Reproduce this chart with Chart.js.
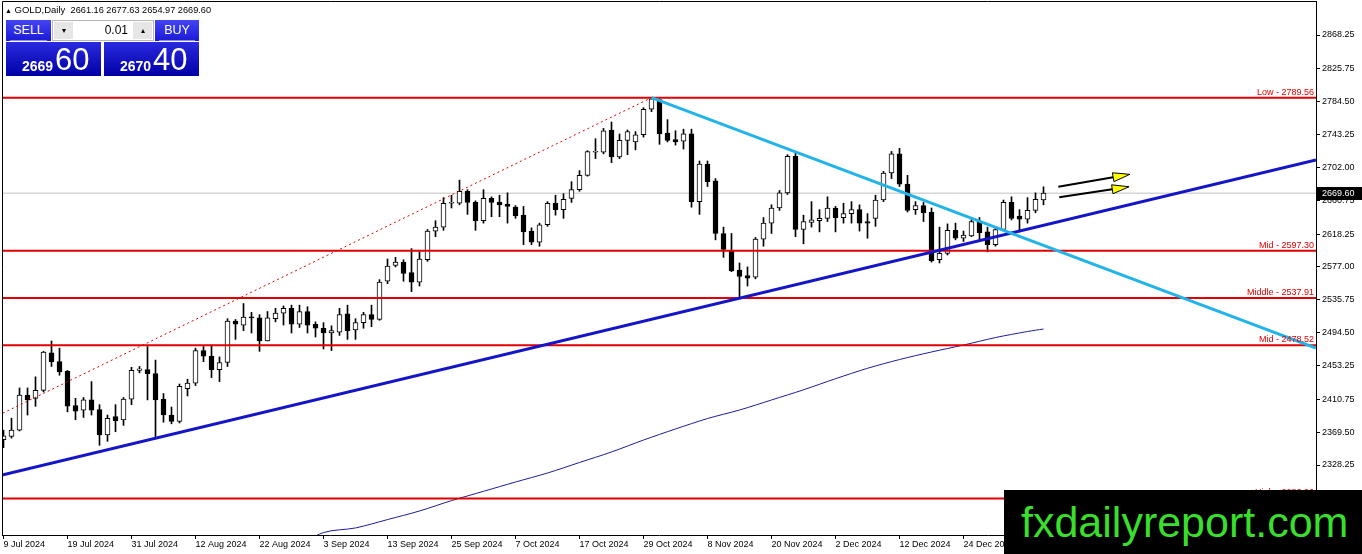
<!DOCTYPE html>
<html>
<head>
<meta charset="utf-8">
<script src="https://cdn.jsdelivr.net/npm/chart.js@4.4.1/dist/chart.umd.min.js"></script>
<style>
  html, body { margin: 0; padding: 0; background: #fff; overflow: hidden; }
  #wrap { position: relative; width: 1362px; height: 554px; font-family: "Liberation Sans", Arial, sans-serif; }
  #chart { position: absolute; left: 0; top: 0; }
  .hdr { position: absolute; left: 5px; top: 4px; font-size: 9.5px; color: #000; white-space: pre; }
  .hdr .n { font-size: 9.2px; }
  .tb { position: absolute; top: 20px; height: 21px; background: linear-gradient(#4444f2, #1a1ad8); color: #fff;
        font-size: 12.5px; line-height: 21px; text-align: center; }
  .tb i { position: absolute; left: 4px; right: 4px; bottom: 0; height: 1px; background: #8c8cf0; }
  .sell { left: 6px; width: 45px; }
  .buy { left: 155px; width: 44px; }
  .lot { position: absolute; left: 52px; top: 20px; width: 102px; height: 21px; background: #fff; border: 1px solid #b8b8b8; box-sizing: border-box; }
  .lot .dn, .lot .up { position: absolute; top: 1px; width: 19px; height: 17px; background: #e6e6e6; font-size: 8px; text-align: center; line-height: 17px; color: #000; }
  .lot .dn { left: 1px; }
  .lot .up { right: 1px; }
  .lot .val { position: absolute; right: 25px; top: 0; line-height: 19px; font-size: 12px; color: #000; }
  .px { position: absolute; top: 42px; height: 34px; background: linear-gradient(#2a2ae0, #0000a4); color: #fff; }
  .sellpx { left: 6px; width: 95px; }
  .buypx { left: 104px; width: 95px; }
  .px .s { position: absolute; left: 16px; top: 17px; font-size: 14px; font-weight: bold; line-height: 1; }
  .px .b { position: absolute; left: 49px; top: 2px; font-size: 31px; line-height: 1; }
  .mark { position: absolute; left: 1004px; top: 490px; width: 358px; height: 64px; background: #000; color: #3ade2c;
          font-size: 43px; line-height: 64px; text-indent: 17px; white-space: nowrap; overflow: hidden; }
</style>
</head>
<body>
<div id="wrap">
  <canvas id="chart" width="1362" height="554"></canvas>
  <div class="hdr" id="hdr"></div>
  <div class="tb sell">SELL<i></i></div>
  <div class="lot"><span class="dn">&#9662;</span><span class="val">0.01</span><span class="up">&#9652;</span></div>
  <div class="tb buy">BUY<i></i></div>
  <div class="px sellpx"><span class="s" id="bidBig"></span><span class="b" id="bidSmall"></span></div>
  <div class="px buypx"><span class="s" id="askBig"></span><span class="b" id="askSmall"></span></div>
  <div class="mark">fxdailyreport.com</div>
</div>
<script>
// GOLD daily, 9 Jul 2024 .. 9 Jan 2025 (one entry per trading day)
const open = [
  2360, 2364, 2372, 2416, 2412, 2422, 2469, 2458, 2446, 2403, 2397, 2410, 2398, 2366, 2389, 2385,
  2411, 2447, 2448, 2443, 2411, 2391, 2383, 2424, 2431, 2472, 2465, 2448, 2457, 2509, 2504, 2514,
  2513, 2484, 2512, 2519, 2525, 2505, 2521, 2505, 2500, 2494, 2495, 2518, 2498, 2507, 2517, 2511,
  2559, 2579, 2583, 2570, 2558, 2586, 2622, 2627, 2657, 2657, 2672, 2658, 2635, 2663, 2658, 2656,
  2652, 2642, 2622, 2608, 2630, 2657, 2649, 2663, 2674, 2692, 2721, 2721, 2749, 2715, 2736, 2734,
  2743, 2775, 2787, 2745, 2737, 2735, 2744, 2659, 2706, 2685, 2619, 2597, 2573, 2566, 2564, 2612,
  2632, 2651, 2670, 2716, 2624, 2633, 2635, 2638, 2651, 2639, 2644, 2649, 2634, 2638, 2661, 2695,
  2719, 2681, 2649, 2654, 2646, 2586, 2594, 2623, 2613, 2616, 2634, 2621, 2605, 2624, 2658, 2641,
  2637, 2648, 2661.16
]
const high = [
  2372, 2387, 2425, 2425, 2439, 2471, 2484, 2475, 2447, 2412, 2413, 2433, 2404, 2391, 2404, 2413,
  2451, 2452, 2477, 2460, 2418, 2401, 2430, 2436, 2475, 2477, 2479, 2464, 2512, 2511, 2531, 2520,
  2517, 2521, 2525, 2528, 2529, 2529, 2527, 2508, 2507, 2503, 2525, 2529, 2512, 2520, 2529, 2561,
  2587, 2589, 2586, 2600, 2596, 2624, 2635, 2664, 2667, 2686, 2674, 2660, 2674, 2665, 2667, 2670,
  2654, 2653, 2626, 2632, 2659, 2667, 2669, 2684, 2698, 2723, 2738, 2751, 2759, 2744, 2749, 2747,
  2777, 2789.56, 2788, 2762, 2748, 2750, 2750, 2710, 2710, 2688, 2627, 2619, 2582, 2577, 2614, 2639,
  2655, 2673, 2718, 2721, 2642, 2659, 2649, 2665, 2653, 2657, 2659, 2655, 2644, 2667, 2697, 2722,
  2726, 2692, 2659, 2658, 2651, 2627, 2631, 2632, 2622, 2638, 2639, 2627, 2627, 2661, 2665, 2649,
  2664, 2670, 2677.63
]
const low = [
  2350, 2362, 2371, 2391, 2402, 2420, 2452, 2441, 2395, 2385, 2388, 2391, 2353, 2358, 2370, 2378,
  2404, 2444, 2410, 2364, 2382, 2380, 2381, 2415, 2428, 2458, 2438, 2433, 2452, 2486, 2497, 2494,
  2471, 2484, 2508, 2504, 2494, 2501, 2494, 2489, 2474, 2472, 2491, 2486, 2486, 2500, 2502, 2510,
  2556, 2577, 2559, 2546, 2553, 2584, 2615, 2623, 2651, 2655, 2643, 2623, 2632, 2640, 2640, 2632,
  2638, 2605, 2605, 2603, 2628, 2642, 2638, 2658, 2672, 2691, 2713, 2719, 2708, 2713, 2718, 2724,
  2740, 2772, 2731, 2734, 2730, 2725, 2652, 2643, 2678, 2611, 2589, 2571, 2537, 2553, 2562, 2603,
  2619, 2648, 2668, 2615, 2606, 2627, 2621, 2634, 2621, 2632, 2632, 2622, 2613, 2628, 2659, 2688,
  2678, 2646, 2643, 2634, 2583, 2582, 2592, 2611, 2609, 2615, 2611, 2596, 2603, 2623, 2636, 2621,
  2632, 2645, 2654.97
]
const close = [
  2365, 2372, 2416, 2410, 2422, 2470, 2458, 2445, 2402, 2396, 2410, 2397, 2366, 2387, 2384, 2411,
  2447, 2449, 2443, 2410, 2391, 2383, 2427, 2431, 2472, 2465, 2448, 2457, 2509, 2505, 2514, 2513,
  2484, 2513, 2519, 2525, 2505, 2521, 2504, 2500, 2494, 2497, 2517, 2497, 2507, 2517, 2511, 2558,
  2578, 2583, 2569, 2558, 2587, 2622, 2627, 2657, 2658, 2672, 2658, 2635, 2663, 2658, 2655, 2653,
  2641, 2621, 2608, 2630, 2657, 2649, 2662, 2674, 2692, 2722, 2722, 2748, 2715, 2736, 2747, 2743,
  2775, 2788, 2744, 2736, 2734, 2744, 2659, 2706, 2684, 2619, 2599, 2572, 2565, 2563, 2612, 2632,
  2651, 2670, 2716, 2624, 2634, 2636, 2638, 2651, 2639, 2644, 2649, 2632, 2632, 2661, 2695, 2719,
  2681, 2648, 2654, 2645, 2585, 2594, 2623, 2613, 2617, 2634, 2620, 2605, 2624, 2658, 2638, 2637,
  2648, 2662, 2669.60
]

// x labels, one every 8 bars
const labelEvery = 8
const tickLabels = [
  "9 Jul 2024", "19 Jul 2024", "31 Jul 2024", "12 Aug 2024", "22 Aug 2024", "3 Sep 2024",
  "13 Sep 2024", "25 Sep 2024", "7 Oct 2024", "17 Oct 2024", "29 Oct 2024", "8 Nov 2024",
  "20 Nov 2024", "2 Dec 2024", "12 Dec 2024", "24 Dec 2024"
]
const yTicks = [2868.25, 2825.75, 2784.50, 2743.25, 2702.00, 2660.75, 2618.25, 2577.00,
  2535.75, 2494.50, 2453.25, 2410.75, 2369.50, 2328.25]

// 200 day moving average (read every 4 bars)
const maIdx = [36, 40, 44, 48, 52, 56, 60, 64, 68, 72, 76, 80, 84, 88, 92, 96, 100, 104, 108, 112, 116, 120, 124, 128, 130]
const maVal = [2222.0, 2243.4, 2249.2, 2259.7, 2270.5, 2283.5, 2295.2, 2306.9, 2318.2, 2331.4, 2344.6, 2359.6,
  2373.5, 2386.6, 2397.3, 2409.9, 2422.7, 2436.6, 2449.7, 2460.7, 2470.2, 2478.9, 2488.3, 2495.9, 2499.0]

// fibo retracement
const fibNames = ["Low", "Mid", "Middle", "Mid", "High"]
const fibLevels = [2789.56, 2597.30, 2537.91, 2478.52, 2286.26]
const fibAnchors = [[-22, 2286.26], [81, 2789.56]]

// drawn trend lines [bar, price]
const supportLine = [[-0.1875, 2315.7], [164.0625, 2711.3]]
const resistLine = [[81, 2789.56], [164.0625, 2475.2]]
const arrows = [[131.85, 2677.7, 140.8, 2693.3], [131.97, 2664.4, 140.7, 2677.7]]

const bid = 2669.60
const ask = 2670.40

// visible range
const xMin = -0.1875
const xMax = 164.0625
const yMin = 2240.35
const yMax = 2910.95

const last = open.length - 1
document.getElementById("hdr").innerHTML = '<span style="font-size:7px">&#9650;</span> GOLD,Daily  <span class="n">' +
  [open[last], high[last], low[last], close[last]].map((v) => v.toFixed(2)).join(" ") + "</span>"
const splitPrice = (p) => { const s = p.toFixed(2); return [s.slice(0, 4), s.slice(5)] }
document.getElementById("bidBig").textContent = splitPrice(bid)[0]
document.getElementById("bidSmall").textContent = splitPrice(bid)[1]
document.getElementById("askBig").textContent = splitPrice(ask)[0]
document.getElementById("askSmall").textContent = splitPrice(ask)[1]

const pts = (arr) => arr.map((p) => ({ x: p[0], y: p[1] }))
const hline = (v) => [{ x: xMin, y: v }, { x: xMax, y: v }]

function drawArrow(ctx, x1, y1, x2, y2) {
  const ang = Math.atan2(y2 - y1, x2 - x1)
  const len = 17
  const half = 4.5
  const bx = x2 - Math.cos(ang) * len
  const by = y2 - Math.sin(ang) * len
  ctx.strokeStyle = "#000"
  ctx.lineWidth = 2
  ctx.beginPath()
  ctx.moveTo(x1, y1)
  ctx.lineTo(bx, by)
  ctx.stroke()
  ctx.beginPath()
  ctx.moveTo(x2, y2)
  ctx.lineTo(bx - Math.sin(ang) * half, by + Math.cos(ang) * half)
  ctx.lineTo(bx + Math.sin(ang) * half, by - Math.cos(ang) * half)
  ctx.closePath()
  ctx.fillStyle = "#ffff00"
  ctx.fill()
  ctx.lineWidth = 1
  ctx.stroke()
}

// ラベル・矢印・枠
const overlay = {
  id: "overlay",
  afterDatasetsDraw(chart) {
    const { ctx, chartArea: a, scales } = chart
    ctx.save()
    ctx.font = '9px "Liberation Sans", Arial, sans-serif'
    ctx.fillStyle = "#e00000"
    ctx.textAlign = "right"
    ctx.textBaseline = "bottom"
    fibLevels.forEach((lv, k) => {
      ctx.fillText(fibNames[k] + " - " + lv.toFixed(2), a.right - 2, scales.y.getPixelForValue(lv) - 1)
    })
    arrows.forEach((ar) => {
      drawArrow(ctx, scales.x.getPixelForValue(ar[0]), scales.y.getPixelForValue(ar[1]),
        scales.x.getPixelForValue(ar[2]), scales.y.getPixelForValue(ar[3]))
    })
    ctx.restore()
  },
  afterDraw(chart) {
    const { ctx, chartArea: a, scales } = chart
    ctx.save()
    ctx.strokeStyle = "#000"
    ctx.lineWidth = 1
    ctx.beginPath()
    ctx.moveTo(a.left + 0.5, a.bottom)
    ctx.lineTo(a.left + 0.5, a.top + 0.5)
    ctx.lineTo(a.right, a.top + 0.5)
    ctx.stroke()
    // current price box
    const py = Math.round(scales.y.getPixelForValue(bid))
    ctx.fillStyle = "#000"
    ctx.fillRect(a.right + 1, py - 6, 45, 13)
    ctx.fillStyle = "#fff"
    ctx.font = '9px "Liberation Sans", Arial, sans-serif'
    ctx.textAlign = "left"
    ctx.textBaseline = "middle"
    ctx.fillText(bid.toFixed(2), a.right + 6, py + 0.5)
    ctx.restore()
  },
}

Chart.defaults.font.family = '"Liberation Sans", Arial, sans-serif'

const bars = open.map((_, i) => i)

new Chart(document.getElementById("chart"), {
  type: "bar",
  data: {
    datasets: [
      {
        label: "price",
        type: "line",
        data: hline(bid),
        borderColor: "#c0c0c0",
        borderWidth: 1,
        pointRadius: 0,
        order: 20,
      },
      {
        label: "wicks",
        data: bars.map((i) => ({ x: i, y: [low[i], high[i]] })),
        backgroundColor: "#000",
        borderWidth: 0,
        barThickness: 1,
        grouped: false,
        order: 12,
      },
      {
        label: "bodies",
        data: bars.map((i) => ({ x: i, y: [open[i], close[i]] })),
        backgroundColor: bars.map((i) => (close[i] >= open[i] ? "#fff" : "#000")),
        borderColor: "#000",
        borderWidth: 1,
        borderSkipped: false,
        barThickness: 5,
        minBarLength: 1,
        grouped: false,
        order: 11,
      },
      {
        label: "MA",
        type: "line",
        data: maIdx.map((x, k) => ({ x: x, y: maVal[k] })),
        borderColor: "#1c1c96",
        borderWidth: 1,
        pointRadius: 0,
        tension: 0.3,
        order: 9,
      },
      ...fibLevels.map((lv) => ({
        label: "fib",
        type: "line",
        data: hline(lv),
        borderColor: "#e00000",
        borderWidth: 2,
        pointRadius: 0,
        order: 6,
      })),
      {
        label: "fibline",
        type: "line",
        data: pts(fibAnchors),
        borderColor: "#e00000",
        borderWidth: 1,
        borderDash: [2, 3],
        pointRadius: 0,
        order: 5,
      },
      {
        label: "support",
        type: "line",
        data: pts(supportLine),
        borderColor: "#1414c8",
        borderWidth: 3,
        pointRadius: 0,
        order: 4,
      },
      {
        label: "resistance",
        type: "line",
        data: pts(resistLine),
        borderColor: "#22b4e8",
        borderWidth: 3,
        pointRadius: 0,
        order: 3,
      },
    ],
  },
  options: {
    responsive: false,
    animation: false,
    devicePixelRatio: 1,
    layout: { padding: { left: 2, top: 1, right: 0, bottom: 0 } },
    plugins: { legend: { display: false }, tooltip: { enabled: false } },
    scales: {
      x: {
        type: "linear",
        min: xMin,
        max: xMax,
        offset: false,
        afterBuildTicks: (s) => { s.ticks = tickLabels.map((_, k) => ({ value: k * labelEvery })) },
        afterFit: (s) => { s.height = 19; s.paddingLeft = 0; s.paddingRight = 0 },
        ticks: {
          autoSkip: false,
          maxRotation: 0,
          align: "start",
          padding: 0,
          color: "#000",
          font: { size: 9 },
          callback: (v) => tickLabels[Math.round(v / labelEvery)],
        },
        grid: { drawOnChartArea: false, tickLength: 4, color: "#000", offset: false },
        border: { color: "#000" },
      },
      y: {
        position: "right",
        min: yMin,
        max: yMax,
        afterBuildTicks: (s) => { s.ticks = yTicks.map((v) => ({ value: v })) },
        afterFit: (s) => { s.width = 46; s.paddingTop = 0; s.paddingBottom = 0 },
        ticks: { color: "#000", padding: 2, font: { size: 9 }, callback: (v) => v.toFixed(2) },
        grid: { drawOnChartArea: false, tickLength: 4, color: "#000" },
        border: { color: "#000" },
      },
    },
  },
  plugins: [overlay],
})
</script>
</body>
</html>
